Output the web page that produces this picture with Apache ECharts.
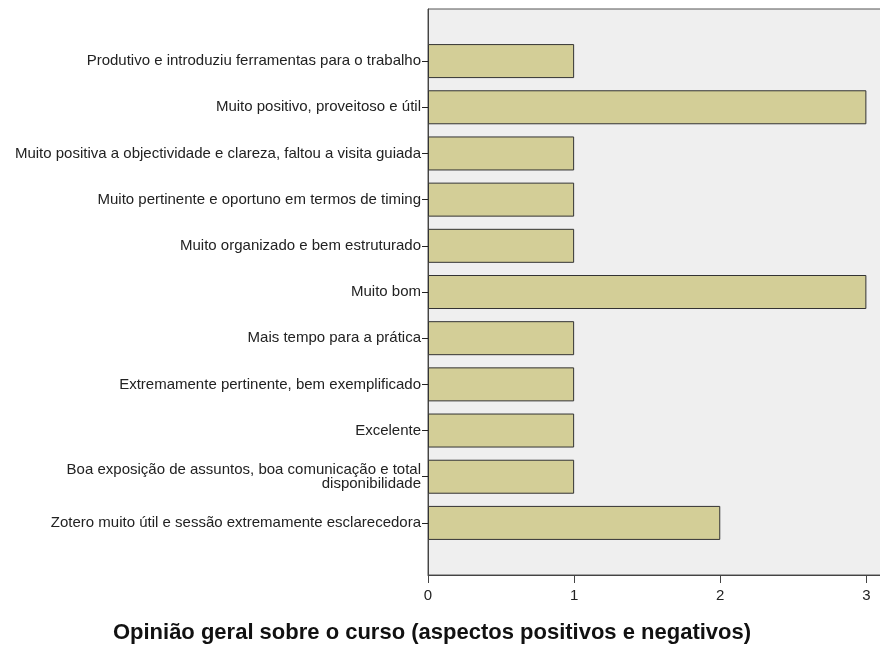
<!DOCTYPE html>
<html>
<head>
<meta charset="utf-8">
<script src="https://cdn.jsdelivr.net/npm/echarts@6/dist/echarts.min.js"></script>
<style>
  html, body { margin: 0; padding: 0; background: #fff; }
  #chart { width: 880px; height: 653px; }
</style>
</head>
<body>
<div id="chart"></div>
<script>
var categories = [
  'Produtivo e introduziu ferramentas para o trabalho',
  'Muito positivo, proveitoso e útil',
  'Muito positiva a objectividade e clareza, faltou a visita guiada',
  'Muito pertinente e oportuno em termos de timing',
  'Muito organizado e bem estruturado',
  'Muito bom',
  'Mais tempo para a prática',
  'Extremamente pertinente, bem exemplificado',
  'Excelente',
  'Boa exposição de assuntos, boa comunicação e total\ndisponibilidade',
  'Zotero muito útil e sessão extremamente esclarecedora'
]
var counts = [1, 3, 1, 1, 1, 3, 1, 1, 1, 1, 2]
var xTicks = [0, 1, 2, 3]

var chart = echarts.init(document.getElementById('chart'))
var font = 'Liberation Sans, Arial, sans-serif'

chart.setOption({
  animation: false,
  grid: [
    // frame, background and x axis
    {
      left: 428, top: 9, width: 453, height: 566,
      outerBoundsMode: 'none',
      show: true, backgroundColor: '#efefef',
      borderColor: '#555', borderWidth: 1
    },
    // bars, inset like in SPSS
    { left: 428, top: 38, width: 453, height: 508, outerBoundsMode: 'none' }
  ],
  xAxis: [
    {
      type: 'value', gridIndex: 0, min: 0, max: 3.1, interval: 1,
      axisLine: { show: true, lineStyle: { color: '#444', width: 1 } },
      axisTick: { show: true, length: 8, customValues: xTicks, lineStyle: { color: '#444' } },
      axisLabel: {
        color: '#222', fontSize: 15, fontFamily: font, margin: 13,
        customValues: xTicks
      },
      splitLine: { show: false }
    },
    { type: 'value', gridIndex: 1, min: 0, max: 3.1, show: false }
  ],
  yAxis: [
    {
      type: 'value', gridIndex: 0, min: 0, max: 1,
      axisLine: { show: true, lineStyle: { color: '#444', width: 1 } },
      axisTick: { show: false }, axisLabel: { show: false },
      splitLine: { show: false }
    },
    {
      type: 'category', gridIndex: 1, inverse: true, data: categories,
      axisLine: { show: false },
      axisTick: { show: true, alignWithLabel: true, length: 6, lineStyle: { color: '#222' } },
      axisLabel: {
        color: '#222', fontSize: 15, fontFamily: font, margin: 7, lineHeight: 14
      }
    }
  ],
  series: [{
    type: 'bar',
    xAxisIndex: 1,
    yAxisIndex: 1,
    data: counts,
    barWidth: 34,
    itemStyle: { color: '#d3ce97', borderColor: '#333', borderWidth: 1 }
  }],
  graphic: [{
    type: 'text', x: 432, y: 633,
    style: {
      text: 'Opinião geral sobre o curso (aspectos positivos e negativos)',
      font: 'bold 22px ' + font, fill: '#111',
      align: 'center', verticalAlign: 'middle'
    }
  }]
})
</script>
</body>
</html>
